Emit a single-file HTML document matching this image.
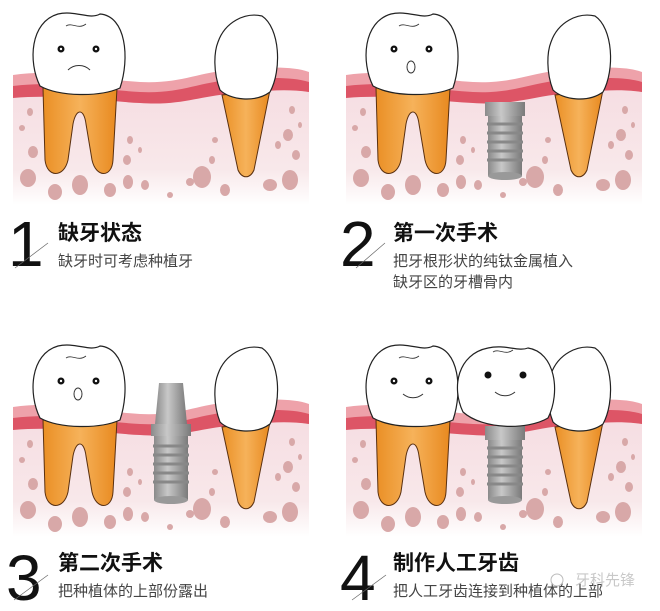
<!DOCTYPE html>
<html><head><meta charset="utf-8"><style>
html,body{margin:0;padding:0;background:#fff;width:660px;height:611px;overflow:hidden}
svg{display:block}
.num{font-family:"Liberation Sans",sans-serif;font-size:64px;fill:#111}
.t{font-family:"Liberation Sans","Noto Sans CJK SC",sans-serif;font-size:21px;font-weight:bold;fill:#111}
.s{font-family:"Liberation Sans","Noto Sans CJK SC",sans-serif;font-size:15px;fill:#444}
</style></head><body>
<svg width="660" height="611" viewBox="0 0 660 611" xmlns="http://www.w3.org/2000/svg">
<defs>
<linearGradient id="bone" x1="0" y1="0" x2="0" y2="1">
<stop offset="0" stop-color="#f6dde2"/><stop offset="0.7" stop-color="#f8e8ea"/><stop offset="1" stop-color="#fff"/></linearGradient>
<linearGradient id="root" x1="0" y1="0" x2="1" y2="0">
<stop offset="0" stop-color="#ea8f25"/><stop offset="0.5" stop-color="#f6b25a"/><stop offset="1" stop-color="#e8891f"/></linearGradient>
<linearGradient id="metal" x1="0" y1="0" x2="1" y2="0">
<stop offset="0" stop-color="#8a8a8a"/><stop offset="0.4" stop-color="#c8c8c8"/><stop offset="1" stop-color="#7a7a7a"/></linearGradient>
<g id="base">
<rect x="13" y="85" width="296" height="120" fill="url(#bone)"/>
<path d="M13,75 C60,68 100,80 140,82 C180,84 200,72 230,70 C260,68 290,65 309,72 L309,92 C280,87 260,90 230,92 C200,94 180,104 140,102 C100,100 60,92 13,97 Z" fill="#eea2aa"/>
<path d="M13,86 C60,80 100,90 140,92 C180,94 200,82 230,80 C260,78 290,76 309,82 L309,92 C280,88 260,92 230,94 C200,96 180,106 140,103 C100,101 60,94 13,98 Z" fill="#dd5566"/>
<g fill="#d8a8a8">
<ellipse cx="30" cy="112" rx="3" ry="4"/><ellipse cx="22" cy="128" rx="3" ry="3"/><ellipse cx="33" cy="152" rx="5" ry="6"/><ellipse cx="28" cy="178" rx="8" ry="9"/><ellipse cx="55" cy="192" rx="7" ry="8"/><ellipse cx="80" cy="185" rx="8" ry="10"/><ellipse cx="110" cy="190" rx="6" ry="7"/><ellipse cx="130" cy="140" rx="3" ry="4"/><ellipse cx="127" cy="160" rx="4" ry="5"/><ellipse cx="140" cy="150" rx="2" ry="3"/><ellipse cx="128" cy="182" rx="5" ry="7"/><ellipse cx="145" cy="185" rx="4" ry="5"/><ellipse cx="170" cy="195" rx="3" ry="3"/><ellipse cx="190" cy="182" rx="4" ry="4"/><ellipse cx="202" cy="177" rx="9" ry="11"/><ellipse cx="215" cy="140" rx="3" ry="3"/><ellipse cx="212" cy="160" rx="3" ry="4"/><ellipse cx="225" cy="190" rx="5" ry="6"/><ellipse cx="270" cy="185" rx="7" ry="6"/><ellipse cx="290" cy="180" rx="8" ry="10"/><ellipse cx="288" cy="135" rx="5" ry="6"/><ellipse cx="296" cy="155" rx="4" ry="5"/><ellipse cx="278" cy="145" rx="3" ry="4"/><ellipse cx="292" cy="110" rx="3" ry="4"/><ellipse cx="300" cy="125" rx="2" ry="3"/>
</g>
<path d="M43,88 L45,160 C47,178 64,178 68,160 L73,124 C76,108 84,108 86,124 L92,160 C96,178 112,178 113,160 L117,88 Z" fill="url(#root)" stroke="#5a3010" stroke-width="1"/>
<path d="M222,95 L238,170 C242,179 250,179 254,170 L270,90 Z" fill="url(#root)" stroke="#5a3010" stroke-width="1"/>
<path d="M218,42 C225,22 245,12 262,16 C280,28 282,70 270,92 C255,103 230,100 220,90 C213,72 214,52 218,42Z" fill="#fff" stroke="#222" stroke-width="1.2"/>
</g>
<path id="molar" d="M40,86 C28,62 30,22 58,14 C75,10 90,20 100,14 C126,16 130,58 120,88 C100,97 60,97 40,86 Z" fill="#fff" stroke="#222" stroke-width="1.2"/>
<g id="eyes"><circle cx="61" cy="49" r="3.5" fill="#111"/><circle cx="61" cy="49" r="1.2" fill="#fff"/><circle cx="96" cy="49" r="3.5" fill="#111"/><circle cx="96" cy="49" r="1.2" fill="#fff"/>
<path d="M66,26 C72,22 78,30 86,24" fill="none" stroke="#333" stroke-width="0.8"/></g>
<g id="threads" stroke="#888" stroke-width="3">
<line x1="-18" y1="0" x2="18" y2="0"/><line x1="-18" y1="9" x2="18" y2="9"/><line x1="-18" y1="18" x2="18" y2="18"/><line x1="-18" y1="27" x2="18" y2="27"/><line x1="-18" y1="36" x2="18" y2="36"/></g>
</defs>

<use href="#base"/><use href="#molar"/><use href="#eyes"/>
<path d="M68,70 C74,64 84,64 90,70" fill="none" stroke="#333" stroke-width="1"/>
<g transform="translate(333,0)">
<use href="#base"/><use href="#molar"/><use href="#eyes"/>
<ellipse cx="78" cy="67" rx="4" ry="6" fill="none" stroke="#333" stroke-width="1"/>
<rect x="152" y="102" width="40" height="14" fill="url(#metal)"/>
<rect x="155" y="116" width="34" height="60" fill="url(#metal)"/>
<use href="#threads" x="172" y="124"/>
<ellipse cx="172" cy="176" rx="17" ry="4" fill="#999"/>
</g>
<g transform="translate(0,332)">
<use href="#base"/><use href="#molar"/><use href="#eyes"/>
<ellipse cx="78" cy="62" rx="4" ry="6" fill="none" stroke="#333" stroke-width="1"/>
<path d="M159,51 L183,51 L187,92 L155,92 Z" fill="url(#metal)"/>
<rect x="151" y="92" width="40" height="12" fill="url(#metal)"/>
<rect x="154" y="104" width="34" height="64" fill="url(#metal)"/>
<use href="#threads" x="171" y="114"/>
<ellipse cx="171" cy="168" rx="17" ry="4" fill="#999"/>
</g>
<g transform="translate(333,332)">
<use href="#base"/>
<rect x="152" y="94" width="40" height="14" fill="url(#metal)"/>
<rect x="155" y="108" width="34" height="60" fill="url(#metal)"/>
<use href="#threads" x="172" y="116"/>
<ellipse cx="172" cy="168" rx="17" ry="4" fill="#999"/>
<use href="#molar"/><use href="#eyes"/>
<path d="M70,62 C76,67 84,67 90,62" fill="none" stroke="#333" stroke-width="1"/>
<path d="M130,80 C118,55 125,22 155,16 C172,12 185,20 195,16 C222,20 228,60 215,86 C195,98 150,98 130,80 Z" fill="#fff" stroke="#222" stroke-width="1.2"/>
<circle cx="155" cy="43" r="3.5" fill="#111"/><circle cx="190" cy="43" r="3.5" fill="#111"/>
<path d="M160,20 C166,16 172,24 180,18" fill="none" stroke="#333" stroke-width="0.8"/>
<path d="M162,60 C168,65 176,65 182,60" fill="none" stroke="#333" stroke-width="1"/>
</g>

<text class="num" x="8" y="266">1</text>
<line x1="15" y1="268" x2="48" y2="243" stroke="#666" stroke-width="0.7"/>
<text class="t" x="58" y="240">缺牙状态</text>
<text class="s" x="58" y="266">缺牙时可考虑种植牙</text>

<text class="num" x="340" y="266">2</text>
<line x1="356" y1="268" x2="385" y2="243" stroke="#666" stroke-width="0.7"/>
<text class="t" x="393" y="240">第一次手术</text>
<text class="s" x="393" y="266">把牙根形状的纯钛金属植入</text>
<text class="s" x="393" y="287">缺牙区的牙槽骨内</text>

<text class="num" x="6" y="600">3</text>
<line x1="14" y1="600" x2="48" y2="575" stroke="#666" stroke-width="0.7"/>
<text class="t" x="58" y="570">第二次手术</text>
<text class="s" x="58" y="596">把种植体的上部份露出</text>

<text class="num" x="340" y="600">4</text>
<line x1="352" y1="600" x2="386" y2="575" stroke="#666" stroke-width="0.7"/>
<text class="t" x="393" y="570">制作人工牙齿</text>
<text class="s" x="393" y="596">把人工牙齿连接到种植体的上部</text>
<text x="575" y="585" font-family="'Liberation Sans','Noto Sans CJK SC',sans-serif" font-size="15" fill="#bbb" opacity="0.8">牙科先锋</text>
<circle cx="557" cy="580" r="6" fill="none" stroke="#bbb" stroke-width="1"/>
</svg>
</body></html>
